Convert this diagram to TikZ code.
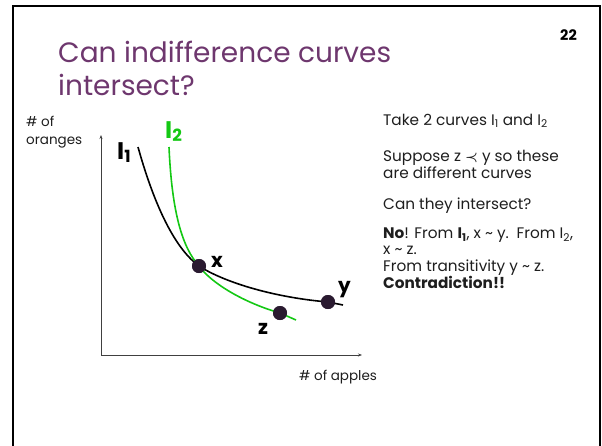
\documentclass[tikz,border=0pt]{standalone}
\usepackage{amsmath}
\usepackage{fontspec}
\setmainfont{Poppins}
\usetikzlibrary{arrows.meta, positioning}
\definecolor{titlepurple}{RGB}{110, 55, 110}
\definecolor{curvegreen}{RGB}{20, 200, 20}
\definecolor{dotdark}{RGB}{42, 26, 48}
\definecolor{textgray}{RGB}{30, 30, 30}

\begin{document}
\begin{tikzpicture}[x=1pt, y=-1pt,
      title/.style={font=\fontsize{28}{33}\selectfont, text=titlepurple, inner sep=0pt, anchor=base west},
      body/.style={font=\fontsize{15.3}{16.6}\selectfont, text=textgray, align=left, inner sep=0pt, anchor=base west},
      axlabel/.style={font=\fontsize{13.5}{18}\selectfont, text=textgray, align=left, inner sep=0pt},
      ptlabel/.style={font=\fontsize{20}{20}\selectfont\bfseries, inner sep=0pt},
      curvelabel/.style={font=\fontsize{24}{24}\selectfont\bfseries, inner sep=0pt, anchor=base west},
      pt/.style={circle, fill=dotdark, minimum size=14pt, inner sep=0pt},
      axis/.style={-{Stealth[length=4pt, width=3pt]}, line width=0.7pt, black!75},
      curve/.style={line width=1.6pt}
  ]
    \useasboundingbox (0,0) rectangle (602,445);
    \draw[line width=2.5pt] (13,460) -- (13,6) -- (600,6) -- (600,460);

    % title and page number
    \node[title] (t1) at (58,62) {Can indifference curves};
    \node[title] (t2) at (58,95) {intersect?};
    \node[font=\fontsize{14.5}{14.5}\selectfont\bfseries, anchor=base east, inner sep=0pt] (pg) at (577,40) {22};

    % axes
    \coordinate (o) at (101,355);
    \coordinate (ytop) at (101,135);
    \coordinate (xend) at (362,355);
    \draw[axis] (o) -- (ytop);
    \draw[axis] (o) -- (xend);
    \node[axlabel, anchor=base west] (ylab) at (26,144) {\# of\\oranges};
    \node[axlabel, anchor=base west] (xlab) at (299,380) {\# of apples};

    % points
    \node[pt] (x) at (199,266) {};
    \node[pt] (y) at (328,302) {};
    \node[pt] (z) at (280,313) {};
    \coordinate (a1) at (138,147);
    \coordinate (b1) at (343,305);
    \coordinate (a2) at (169,147);
    \coordinate (b2) at (296,320);

    % curves
    \draw[curve] (a1) .. controls (150,190) and (170,245) .. (x.center)
      .. controls (222,281) and (270,297) .. (y.center) -- (b1);
    \draw[curve, curvegreen] (a2) .. controls (172,215) and (183,248) .. (x.center)
      .. controls (212,284) and (245,303) .. (z.center) -- (b2);
    \node[pt] at (x) {};
    \node[pt] at (y) {};
    \node[pt] at (z) {};

    \node[ptlabel, anchor=base west] (xl) at (211,267) {x};
    \node[ptlabel, anchor=base west] (yl) at (338,292) {y};
    \node[ptlabel, anchor=base west] (zl) at (258,334) {z};
    \node[curvelabel] (i1) at (117,159) {I\textsubscript{1}};
    \node[curvelabel, text=curvegreen] (i2) at (165,138) {I\textsubscript{2}};

    % right hand text
    \node[body] (take) at (383,125) {Take 2 curves I\textsubscript{1} and I\textsubscript{2}};
    \node[body] (supp) at (383,178) {Suppose z $\boldsymbol{\prec}$ y so these\\are different curves};
    \node[body] (can) at (383,209) {Can they intersect?};
    \node[body] (no) at (383,288) {\textbf{No}! From \textbf{I\textsubscript{1}}, x \textasciitilde{} y.\enspace From I\textsubscript{2},\\x \textasciitilde{} z.\\From transitivity y \textasciitilde{} z.\\\textbf{Contradiction!!}};
  \end{tikzpicture}
\end{document}
